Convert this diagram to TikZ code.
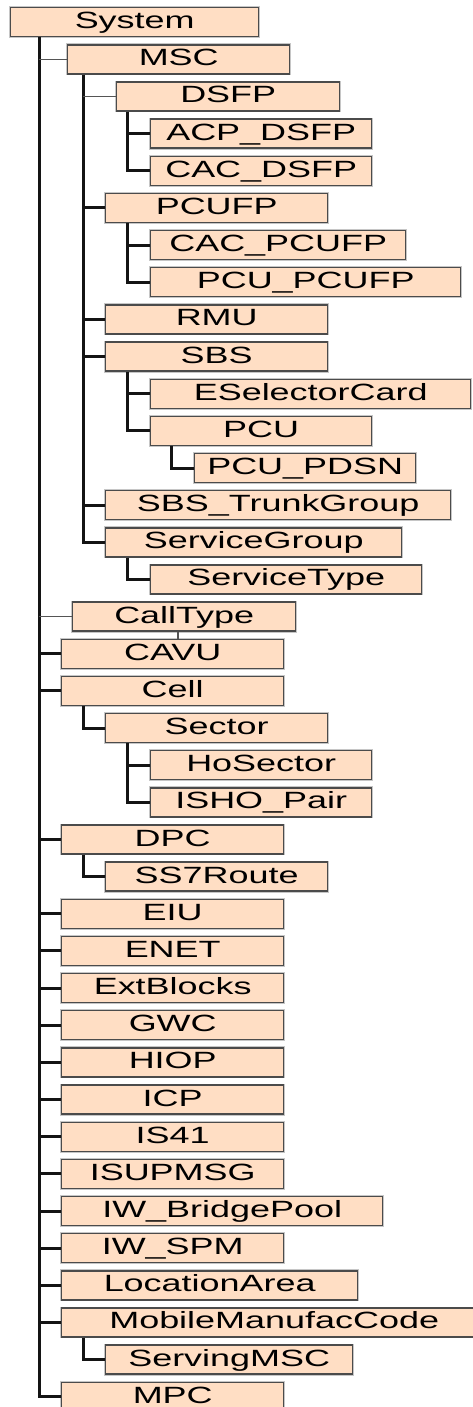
\documentclass[tikz,border=0pt]{standalone}
\usepackage{fontspec}
\setmainfont[FakeStretch=1.53]{Liberation Sans}
\definecolor{boxfill}{RGB}{255,222,196}
\definecolor{boxline}{RGB}{75,75,75}
\definecolor{linkdark}{RGB}{20,20,20}
\definecolor{linkgray}{RGB}{85,85,85}
\tikzset{
  box/.style={draw=boxline, line width=1.4pt, fill=boxfill, rectangle,
    minimum height=29pt, inner sep=0pt, text height=17pt, text depth=4pt,
    font=\fontsize{23.5}{25}\selectfont, text=black,
    preaction={draw=gray!45, line width=2.9pt}},
  link/.style={draw=linkdark, line width=3pt, line join=miter},
  thinlink/.style={draw=linkgray, line width=1.4pt}
}
% one box: name, row, left edge, width, label
\newcommand\bx[5]{\node[box, minimum width=#4pt, anchor=north west] (#1) at (#3,{7+37.15*#2}) {#5};}
\begin{document}
\begin{tikzpicture}[x=1pt, y=-1pt]
\useasboundingbox (0,0) rectangle (473,1407);
% trunk columns
\coordinate (c0) at (39,0);
\coordinate (c1) at (83,0);
\coordinate (c2) at (127,0);
\coordinate (c3) at (171,0);
\coordinate (tick) at (178,0);

% boxes
\bx{sys}{0}{10}{248}{System}
\bx{msc}{1}{67}{222}{MSC}
\bx{dsfp}{2}{116}{223}{DSFP}
\bx{acpdsfp}{3}{150}{221}{ACP\_DSFP}
\bx{cacdsfp}{4}{150}{221}{CAC\_DSFP}
\bx{pcufp}{5}{105}{222}{PCUFP}
\bx{cacpcufp}{6}{150}{255}{CAC\_PCUFP}
\bx{pcupcufp}{7}{150}{310}{PCU\_PCUFP}
\bx{rmu}{8}{105}{222}{RMU}
\bx{sbs}{9}{105}{222}{SBS}
\bx{esel}{10}{150}{320}{ESelectorCard}
\bx{pcu}{11}{150}{221}{PCU}
\bx{pdsn}{12}{194}{221}{PCU\_PDSN}
\bx{sbstg}{13}{105}{345}{SBS\_TrunkGroup}
\bx{sgroup}{14}{105}{296}{ServiceGroup}
\bx{stype}{15}{150}{271}{ServiceType}
\bx{calltype}{16}{72}{223}{CallType}
\bx{cavu}{17}{61}{222}{CAVU}
\bx{cell}{18}{61}{222}{Cell}
\bx{sector}{19}{105}{222}{Sector}
\bx{hosector}{20}{150}{221}{HoSector}
\bx{isho}{21}{150}{221}{ISHO\_Pair}
\bx{dpc}{22}{61}{222}{DPC}
\bx{ss7}{23}{105}{222}{SS7Route}
\bx{eiu}{24}{61}{222}{EIU}
\bx{enet}{25}{61}{222}{ENET}
\bx{extb}{26}{61}{222}{ExtBlocks}
\bx{gwc}{27}{61}{222}{GWC}
\bx{hiop}{28}{61}{222}{HIOP}
\bx{icp}{29}{61}{222}{ICP}
\bx{is41}{30}{61}{222}{IS41}
\bx{isup}{31}{61}{222}{ISUPMSG}
\bx{iwbp}{32}{61}{321}{IW\_BridgePool}
\bx{iwspm}{33}{61}{222}{IW\_SPM}
\bx{locarea}{34}{61}{296}{LocationArea}
\bx{mmc}{35}{61}{425}{MobileManufacCode}
\bx{smsc}{36}{105}{247}{ServingMSC}
\bx{mpc}{37}{61}{222}{MPC}

% System children
\draw[link] (c0 |- sys.south) |- (mpc.west);
\draw[thinlink] (c0 |- msc.west) -- (msc.west);
\draw[thinlink] (c0 |- calltype.west) -- (calltype.west);
\foreach \n in {cavu,cell,dpc,eiu,enet,extb,gwc,hiop,icp,is41,isup,iwbp,iwspm,locarea,mmc}
  \draw[link] (c0 |- \n.west) -- (\n.west);
\draw[thinlink] (tick |- calltype.south) -- (tick |- cavu.north);

% MSC children
\draw[link] (c1 |- msc.south) |- (sgroup.west);
\draw[thinlink] (c1 |- dsfp.west) -- (dsfp.west);
\foreach \n in {pcufp,rmu,sbs,sbstg}
  \draw[link] (c1 |- \n.west) -- (\n.west);

% DSFP children
\draw[link] (c2 |- dsfp.south) |- (cacdsfp.west);
\draw[link] (c2 |- acpdsfp.west) -- (acpdsfp.west);

% PCUFP children
\draw[link] (c2 |- pcufp.south) |- (pcupcufp.west);
\draw[link] (c2 |- cacpcufp.west) -- (cacpcufp.west);

% SBS children
\draw[link] (c2 |- sbs.south) |- (pcu.west);
\draw[link] (c2 |- esel.west) -- (esel.west);
\draw[link] (c3 |- pcu.south) |- (pdsn.west);

% ServiceGroup child
\draw[link] (c2 |- sgroup.south) |- (stype.west);

% Cell subtree
\draw[link] (c1 |- cell.south) |- (sector.west);
\draw[link] (c2 |- sector.south) |- (isho.west);
\draw[link] (c2 |- hosector.west) -- (hosector.west);

% DPC child
\draw[link] (c1 |- dpc.south) |- (ss7.west);

% MobileManufacCode child
\draw[link] (c1 |- mmc.south) |- (smsc.west);
\end{tikzpicture}
\end{document}
